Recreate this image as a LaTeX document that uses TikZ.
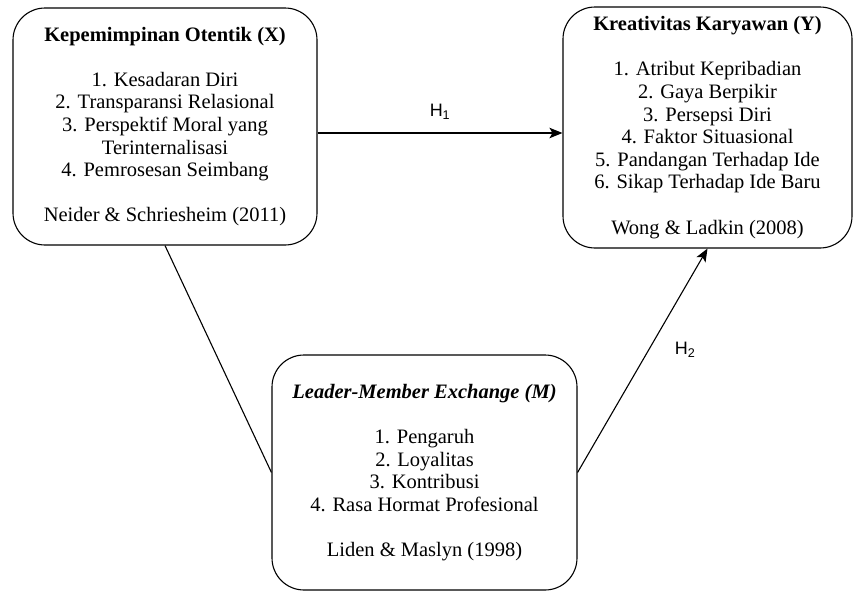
\documentclass[tikz,border=0pt]{standalone}
\usepackage{fontspec}
\setmainfont{Liberation Serif}
\setsansfont{Liberation Sans}
\usetikzlibrary{arrows.meta}

\tikzset{
  varbox/.style={draw, line width=1.1pt, rounded corners=32pt, align=center, inner sep=0pt,
    font=\fontsize{20.5}{22.6}\selectfont},
  hlabel/.style={font=\sffamily\fontsize{18}{20}\selectfont},
  conn/.style={line width=1.1pt},
  arr/.style={conn, -{Stealth[length=13pt, width=10.5pt, inset=3pt]}}
}

\begin{document}
\begin{tikzpicture}[x=1pt, y=-1pt]
    \useasboundingbox (0,0) rectangle (855,592);

    % Variabel independen
    \node[varbox, minimum width=304pt, minimum height=237pt] (X) at (165,126.5)
      {\textbf{Kepemimpinan Otentik (X)}\\[22.6pt]
       1. Kesadaran Diri\\
       2. Transparansi Relasional\\
       3. Perspektif Moral yang\\
       Terinternalisasi\\
       4. Pemrosesan Seimbang\\[22.6pt]
       Neider \& Schriesheim (2011)};

    % Variabel dependen
    \node[varbox, minimum width=289pt, minimum height=241pt] (Y) at (707.5,127.5)
      {\textbf{Kreativitas Karyawan (Y)}\\[22.6pt]
       1. Atribut Kepribadian\\
       2. Gaya Berpikir\\
       3. Persepsi Diri\\
       4. Faktor Situasional\\
       5. Pandangan Terhadap Ide\\
       6. Sikap Terhadap Ide Baru\\[22.6pt]
       Wong \& Ladkin (2008)};

    % Variabel mediasi
    \node[varbox, minimum width=305pt, minimum height=235pt] (M) at (424.5,472.5)
      {\textbf{\textit{Leader-Member Exchange (M)}}\\[22.6pt]
       1. Pengaruh\\
       2. Loyalitas\\
       3. Kontribusi\\
       4. Rasa Hormat Profesional\\[22.6pt]
       Liden \& Maslyn (1998)};

    % Hubungan antar variabel
    \draw[arr] ([yshift=-6.5pt]X.east) -- ([yshift=-6.5pt]X.east -| Y.west);
    \draw[conn] (X.south) -- (M.west);
    \draw[arr] (M.east) -- (Y.south);

    % Hipotesis
    \node[hlabel] (h1) at (440,112) {H\textsubscript{1}};
    \node[hlabel] (h2) at (685,350) {H\textsubscript{2}};
\end{tikzpicture}
\end{document}
